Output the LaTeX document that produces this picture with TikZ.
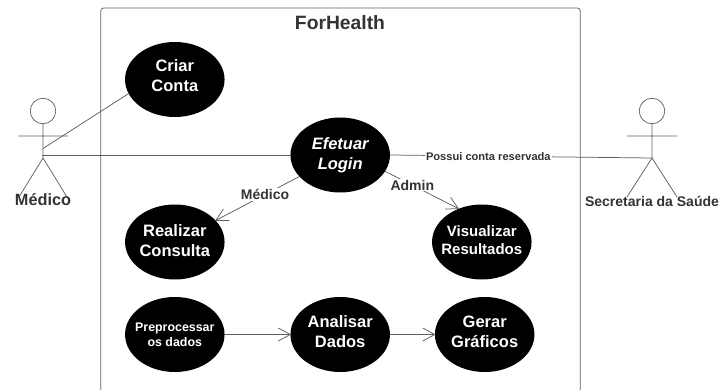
\documentclass[tikz,border=0pt]{standalone}
\usepackage{fontspec}
\setmainfont{Liberation Sans}
\usetikzlibrary{shapes.geometric,arrows.meta}
\definecolor{ink}{HTML}{333333}
\definecolor{wire}{HTML}{5F5F5F}
\pgfdeclarearrow{
  name=OpenV,
  setup code={
    \pgfarrowssettipend{0pt}
    \pgfarrowssetlineend{-1pt}
    \pgfarrowssetvisualbackend{-1pt}
    \pgfarrowssetbackend{-12pt}
    \pgfarrowshullpoint{0pt}{0pt}
    \pgfarrowsupperhullpoint{-12pt}{6.5pt}
  },
  drawing code={
    \pgfsetdash{}{0pt}
    \pgfpathmoveto{\pgfqpoint{-12pt}{6.5pt}}
    \pgfpathlineto{\pgfqpoint{0pt}{0pt}}
    \pgfpathlineto{\pgfqpoint{-12pt}{-6.5pt}}
    \pgfusepathqstroke
  }
}
\tikzset{
  usecase/.style={ellipse,fill=black,text=white,minimum width=99.5pt,minimum height=75pt,inner ysep=0pt,inner xsep=-8pt,align=center,font=\fontsize{16.5}{20}\selectfont\bfseries},
  wiring/.style={draw=wire,line width=0.75pt},
  flow/.style={wiring,-{OpenV}},
  label/.style={text=ink,font=\fontsize{14}{16}\selectfont\bfseries,inner sep=1pt},
  edgelabel/.style={label,fill=white},
  head/.style={circle,draw=wire,line width=0.75pt,fill=white,minimum size=25.5pt,inner sep=0pt},
}
\begin{document}
\begin{tikzpicture}[x=1pt,y=-1pt]
\useasboundingbox (0,0) rectangle (720,390);
% frame
\draw[wiring,rounded corners=3pt] (100.7,390) -- (100.7,8) -- (580.3,8) -- (580.3,390);
\node[text=ink,font=\fontsize{19.3}{22}\selectfont\bfseries] (title) at (340,22.5) {ForHealth};
% use cases
\node[usecase,text depth=7pt] (criar) at (174.8,79.5) {Criar\\Conta};
\node[usecase] (login) at (340.2,155) {\itshape Efetuar\\\itshape Login};
\node[usecase,text depth=3pt] (real) at (174.8,242) {Realizar\\Consulta};
\node[usecase,text depth=4pt,font=\fontsize{15}{18.5}\selectfont\bfseries] (vis) at (481.8,242) {Visualizar\\Resultados};
\node[usecase,font=\fontsize{12.4}{15}\selectfont\bfseries] (pre) at (174.8,334.5) {Preprocessar\\os dados};
\node[usecase,text depth=6pt] (ana) at (340.2,334.5) {Analisar\\Dados};
\node[usecase,text depth=6pt] (ger) at (484.7,334.5) {Gerar\\Gráficos};
% actor Médico
\node[head] (h1) at (43,111) {};
\coordinate (n1) at (43,148.5);
\coordinate (w1) at (41.5,155);
\coordinate (c1) at (43,158);
\coordinate (al1) at (18,136);
\coordinate (ar1) at (68,136);
\coordinate (ll1) at (19,197);
\coordinate (lr1) at (67,197);
\draw[wiring] (h1) -- (c1) (al1) -- (ar1) (ll1) -- (c1) -- (lr1);
\node[label,font=\fontsize{16.3}{18}\selectfont\bfseries] (m1) at (43,200) {Médico};
% actor Secretaria
\node[head] (h2) at (652,111) {};
\coordinate (c2) at (652,158);
\coordinate (al2) at (627,136);
\coordinate (ar2) at (677,136);
\coordinate (ll2) at (627,197);
\coordinate (lr2) at (677,197);
\draw[wiring] (h2) -- (c2) (al2) -- (ar2) (ll2) -- (c2) -- (lr2);
\node[label] (m2) at (652,201.5) {Secretaria da Saúde};
% connectors
\draw[wiring] (n1) -- (criar.197);
\draw[wiring] (w1) -- (login.west);
\draw[wiring] (login.east) -- node[edgelabel,font=\fontsize{11.1}{13}\selectfont\bfseries,pos=0.375] (lp) {Possui conta reservada} (c2);
\draw[flow] (login) -- node[edgelabel,pos=0.41] (lm) {Médico} (real);
\draw[flow] (login.-20) -- node[edgelabel,pos=0.37] (la) {Admin} (vis.125);
\draw[flow] (pre) -- (ana);
\draw[flow] (ana) -- (ger);
\end{tikzpicture}
\end{document}
